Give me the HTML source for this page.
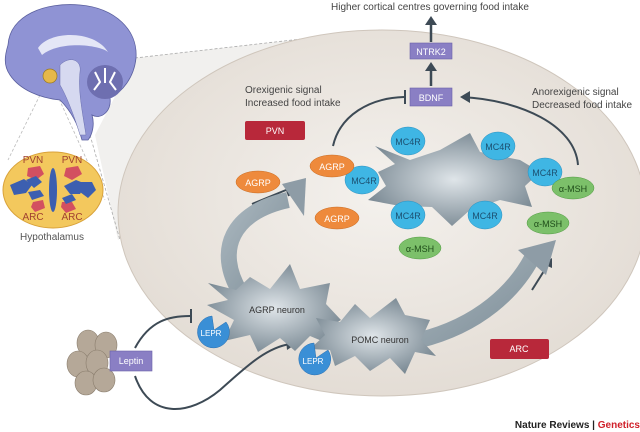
<!DOCTYPE html>
<html><head><meta charset="utf-8"><style>
html,body{margin:0;padding:0;background:#fff;width:640px;height:432px;overflow:hidden}
svg{display:block;font-family:"Liberation Sans",sans-serif}
</style></head><body>
<svg width="640" height="432" viewBox="0 0 640 432" xmlns="http://www.w3.org/2000/svg">
<defs>
<radialGradient id="bg" cx="0.5" cy="0.45" r="0.6"><stop offset="0" stop-color="#f4f1ed"/><stop offset="1" stop-color="#e2dbd3"/></radialGradient>
<radialGradient id="nr" cx="0.5" cy="0.5" r="0.6"><stop offset="0" stop-color="#dfe5e9"/><stop offset="1" stop-color="#6f7f8a"/></radialGradient>
<linearGradient id="band" x1="0" y1="0" x2="1" y2="1"><stop offset="0" stop-color="#a9b6be"/><stop offset="1" stop-color="#7e8e98"/></linearGradient>
</defs>
<!-- wedge -->
<polygon points="135,58 380,30 118,240 95,135" fill="#f1f0ee"/>
<line x1="135" y1="58" x2="380" y2="30" stroke="#aaa" stroke-dasharray="3,2" stroke-width="0.8"/>
<line x1="90" y1="135" x2="120" y2="240" stroke="#aaa" stroke-dasharray="3,2" stroke-width="0.8"/>
<line x1="40" y1="95" x2="8" y2="160" stroke="#bbb" stroke-dasharray="3,2" stroke-width="0.8"/>
<line x1="55" y1="90" x2="105" y2="200" stroke="#bbb" stroke-dasharray="3,2" stroke-width="0.8"/>
<!-- big ellipse -->
<ellipse cx="382" cy="213" rx="264" ry="183" fill="url(#bg)" stroke="#cfc6bc" stroke-width="1"/>
<!-- brain -->
<path d="M8,45 C10,15 45,2 80,5 C115,8 138,30 136,58 C134,78 122,92 110,98 C112,112 100,120 92,115 C95,125 92,135 88,140 L82,140 C78,125 72,112 60,100 C40,98 20,90 10,75 C3,65 5,55 8,45Z" fill="#8f93d4" stroke="#5a5f9e" stroke-width="0.8"/>
<path d="M38,48 C50,30 95,30 108,52 C100,45 60,40 42,55Z" fill="#e4e6f6"/>
<path d="M60,65 C70,55 82,60 80,72 C78,90 82,110 86,135 L80,135 C74,115 66,95 60,85Z" fill="#d6d9f0" stroke="#6a6fae" stroke-width="0.5"/>
<ellipse cx="105" cy="82" rx="18" ry="17" fill="#6e6fb0"/>
<path d="M95,72 l5,10 l-6,8 M105,68 l0,15 M115,72 l-5,10 l6,8" stroke="#fff" stroke-width="2" fill="none"/>
<circle cx="50" cy="76" r="7" fill="#e6b84a" stroke="#9a7a20" stroke-width="0.7"/>
<!-- hypothalamus -->
<ellipse cx="53" cy="190" rx="50" ry="38" fill="#f3c85d" stroke="#d9a23a" stroke-width="1"/>
<ellipse cx="53" cy="190" rx="4" ry="22" fill="#3c5fb0"/>
<path d="M28,168 l12,-2 l4,8 l-8,6 l-9,-4z M66,168 l12,-2 l4,8 l-10,6 l-8,-4z M33,202 l10,-2 l2,8 l-10,4 l-4,-5z M62,202 l10,0 l4,7 l-10,4 l-5,-6z" fill="#d35060"/>
<path d="M10,185 l14,-6 l8,6 l-6,8 l-12,2z M26,180 l10,-4 l6,6 l-8,6z M28,192 l12,-2 l4,6 l-12,4z M64,186 l12,-6 l10,4 l-6,10 l-10,0z M80,182 l12,0 l4,8 l-8,8 l-8,-6z M62,198 l10,-4 l4,6 l-10,4z" fill="#3c5fb0"/>
<g font-size="10" fill="#a04030" text-anchor="middle"><text x="33" y="163">PVN</text><text x="72" y="163">PVN</text><text x="33" y="220">ARC</text><text x="72" y="220">ARC</text></g>
<text x="52" y="240" font-size="10" fill="#555" text-anchor="middle">Hypothalamus</text>
<!-- title -->
<text x="430" y="10" font-size="10" fill="#444" text-anchor="middle">Higher cortical centres governing food intake</text>
<g stroke="#3d4a55" stroke-width="2.5" fill="#3d4a55">
<line x1="431" y1="42" x2="431" y2="24"/><polygon points="425,25 437,25 431,16" stroke="none"/>
<line x1="431" y1="86" x2="431" y2="70"/><polygon points="425,71 437,71 431,62" stroke="none"/>
</g>
<rect x="410" y="43" width="42" height="16" fill="#8a7fc4" stroke="#6b60a8" stroke-width="0.6"/>
<text x="431" y="55" font-size="9" fill="#fff" text-anchor="middle">NTRK2</text>
<rect x="410" y="88" width="42" height="18" fill="#8a7fc4" stroke="#6b60a8" stroke-width="0.6"/>
<text x="431" y="101" font-size="9" fill="#fff" text-anchor="middle">BDNF</text>
<g font-size="10" fill="#444"><text x="245" y="93">Orexigenic signal</text><text x="245" y="106">Increased food intake</text>
<text x="532" y="95">Anorexigenic signal</text><text x="532" y="108">Decreased food intake</text></g>
<rect x="245" y="121" width="60" height="19" rx="2" fill="#b8283a"/>
<text x="275" y="134" font-size="9" fill="#fff" text-anchor="middle">PVN</text>
<rect x="490" y="339" width="59" height="20" rx="2" fill="#b8283a"/>
<text x="519" y="352" font-size="9" fill="#fff" text-anchor="middle">ARC</text>
<!-- signal arcs -->
<g fill="none" stroke="#3d4a55" stroke-width="2">
<path d="M333,146 C340,115 370,98 404,97"/><line x1="405" y1="90" x2="405" y2="104"/>
<path d="M578,165 C575,125 520,100 462,97"/>
<line x1="252" y1="204" x2="286" y2="190"/><line x1="285" y1="184" x2="289" y2="196"/>
<path d="M135,348 C150,320 170,316 190,316"/><line x1="191" y1="309" x2="191" y2="323"/>
<path d="M135,376 C150,420 190,415 220,390 C245,368 265,348 290,344"/>
<path d="M532,290 L549,263"/>
</g>
<g fill="#3d4a55"><polygon points="460,97 470,91 470,103"/><polygon points="296,344 286,339 287,350"/><polygon points="552,258 543,264 552,268"/></g>
<!-- bands -->
<path d="M240,292 C215,250 232,212 288,200" stroke="url(#band)" stroke-width="16" fill="none"/>
<polygon points="282,184 306,178 304,216" fill="#8e9ca6"/>
<path d="M420,340 C480,325 515,290 532,258" stroke="url(#band)" stroke-width="16" fill="none"/>
<polygon points="518,250 556,240 546,275" fill="#8e9ca6"/>
<!-- neurons -->
<path d="M375,146 L410,160 L440,150 L470,133 L480,152 L520,160 L540,172 L525,186 L532,207 L500,200 L470,210 L452,226 L432,207 L400,206 L368,200 L386,186 L378,172 L395,164Z" fill="url(#nr)"/>
<path d="M208,283 L236,290 L250,277 L270,289 L290,264 L300,289 L330,283 L326,304 L341,320 L324,330 L334,346 L310,336 L295,351 L280,338 L258,352 L250,335 L224,341 L234,320 L207,305 L228,300Z" fill="url(#nr)"/>
<path d="M316,318 L340,322 L355,304 L370,318 L396,298 L405,315 L430,320 L421,340 L436,356 L415,352 L405,374 L390,358 L370,371 L355,356 L335,366 L330,350 L310,349 L325,335Z" fill="url(#nr)"/>
<g font-size="9" fill="#333" text-anchor="middle"><text x="277" y="313">AGRP neuron</text><text x="380" y="343">POMC neuron</text></g>
<!-- LEPR -->
<g fill="#3a8fd6" stroke="#2a6fb0" stroke-width="0.5"><path d="M212,316 A16,16 0 1,0 226,322 L214,330 Z"/><path d="M314,343 A16,16 0 1,0 328,350 L316,358 Z"/></g>
<g font-size="8" fill="#fff" text-anchor="middle"><text x="211" y="336">LEPR</text><text x="313" y="364">LEPR</text></g>
<!-- leptin cells -->
<g fill="#b5a898" stroke="#8a7d6d" stroke-width="0.6">
<ellipse cx="88" cy="343" rx="11" ry="13"/><ellipse cx="106" cy="345" rx="11" ry="13"/><ellipse cx="78" cy="364" rx="11" ry="13"/><ellipse cx="97" cy="363" rx="11" ry="13"/><ellipse cx="86" cy="383" rx="11" ry="12"/><ellipse cx="104" cy="380" rx="11" ry="12"/></g>
<rect x="110" y="351" width="42" height="20" fill="#8a7fc4" stroke="#6b60a8" stroke-width="0.6"/>
<text x="131" y="364" font-size="9" fill="#fff" text-anchor="middle">Leptin</text>
<!-- MC4R -->
<g fill="#3fb6e4" stroke="#2a8fbf" stroke-width="0.5">
<ellipse cx="408" cy="141" rx="17" ry="14"/><ellipse cx="498" cy="146" rx="17" ry="14"/><ellipse cx="545" cy="172" rx="17" ry="14"/><ellipse cx="362" cy="180" rx="17" ry="14"/><ellipse cx="408" cy="215" rx="17" ry="14"/><ellipse cx="485" cy="215" rx="17" ry="14"/></g>
<g font-size="9" fill="#1c4f70" text-anchor="middle"><text x="408" y="145">MC4R</text><text x="498" y="150">MC4R</text><text x="545" y="176">MC4R</text><text x="364" y="184">MC4R</text><text x="408" y="219">MC4R</text><text x="485" y="219">MC4R</text></g>
<!-- AGRP -->
<g fill="#ee8a3c" stroke="#c86a20" stroke-width="0.5"><ellipse cx="332" cy="166" rx="22" ry="11"/><ellipse cx="258" cy="182" rx="22" ry="11"/><ellipse cx="337" cy="218" rx="22" ry="11"/></g>
<g font-size="9" fill="#fff" text-anchor="middle"><text x="332" y="170">AGRP</text><text x="258" y="186">AGRP</text><text x="337" y="222">AGRP</text></g>
<!-- a-MSH -->
<g fill="#7cc06a" stroke="#4f9a40" stroke-width="0.5"><ellipse cx="573" cy="188" rx="21" ry="11"/><ellipse cx="548" cy="223" rx="21" ry="11"/><ellipse cx="420" cy="248" rx="21" ry="11"/></g>
<g font-size="9" fill="#1f4d1a" text-anchor="middle"><text x="573" y="192">α-MSH</text><text x="548" y="227">α-MSH</text><text x="420" y="252">α-MSH</text></g>
<text x="640" y="428" font-size="10" font-weight="bold" fill="#222" text-anchor="end">Nature Reviews | <tspan fill="#d0202a">Genetics</tspan></text>
</svg>
</body></html>
